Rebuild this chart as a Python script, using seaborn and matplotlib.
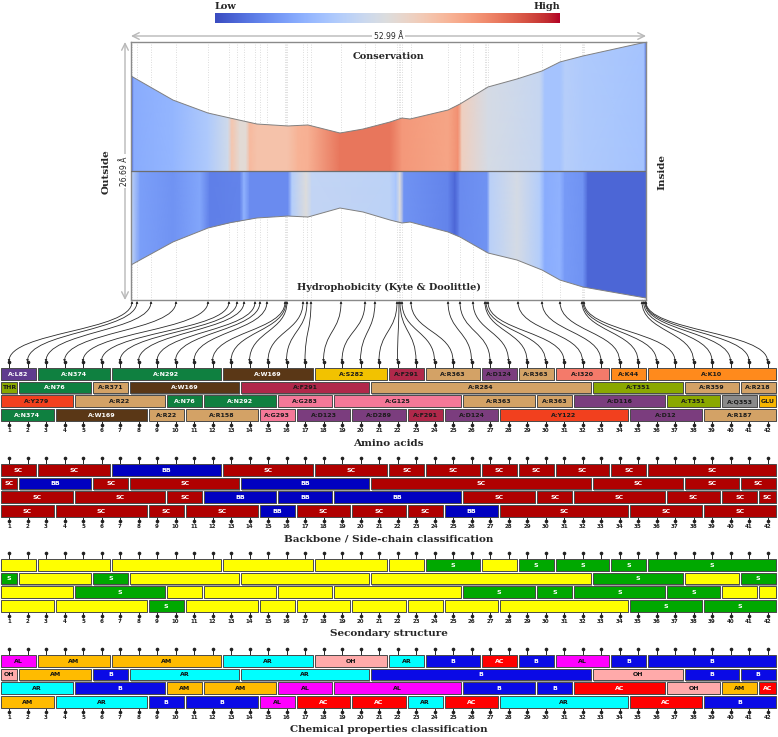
import numpy as np
import seaborn as sns
import matplotlib.pyplot as plt
from matplotlib.patches import Rectangle, Polygon, FancyArrowPatch
from matplotlib.path import Path

sns.set_theme(style="white")
plt.rcParams['font.family'] = ['DejaVu Sans']

# ---- membrane panel (Angstrom) ----
WIDTH_A = 52.99
HEIGHT_A = 26.69

profile_x = [0, 4.32, 7.92, 10.19, 12.96, 16.15, 18.21, 21.50, 23.87, 26.65,
             27.88, 28.71, 32.62, 33.85, 36.73, 39.72, 42.29, 44.14, 46.51, 52.99]
cons_top = [9.83, 7.34, 6.00, 5.48, 4.86, 4.66, 4.76, 3.93, 4.34, 5.07,
            5.48, 5.38, 6.31, 6.93, 8.69, 9.52, 10.35, 11.28, 11.90, 13.34]
hyd_depth = [9.72, 7.34, 5.90, 5.35, 4.86, 4.66, 4.76, 3.83, 4.24, 5.07,
             5.38, 5.28, 6.31, 6.83, 8.48, 9.21, 10.24, 11.28, 12.00, 13.14]

cons_knots = [0, 0.31, 4.32, 7.92, 9.98, 10.39, 11.21, 11.83, 12.24, 12.96, 16.15,
              17.18, 18.21, 21.50, 26.65, 27.88, 32.62, 33.65, 34.06, 36.73, 42.08,
              42.60, 44.14, 44.65, 46.51, 52.78, 52.99]
cons_values = [0.05, 0.24, 0.27, 0.35, 0.45, 0.62, 0.52, 0.52, 0.66, 0.63, 0.63,
               0.68, 0.69, 0.83, 0.83, 0.75, 0.72, 0.77, 0.58, 0.47, 0.42,
               0.32, 0.32, 0.37, 0.35, 0.32, 0.10]

hyd_knots = [0, 0.93, 4.32, 7.10, 8.13, 11.21, 11.63, 12.24, 16.15, 16.57, 18.01,
             18.62, 26.65, 27.27, 27.68, 28.09, 32.62, 33.34, 33.85, 36.63, 36.94,
             39.72, 42.08, 42.60, 44.14, 44.65, 46.51, 47.02, 52.99]
hyd_values = [0.40, 0.20, 0.17, 0.22, 0.12, 0.13, 0.26, 0.15, 0.15, 0.36, 0.50,
              0.41, 0.39, 0.33, 0.50, 0.17, 0.13, 0.06, 0.15, 0.17, 0.38,
              0.47, 0.36, 0.24, 0.26, 0.19, 0.17, 0.06, 0.06]

# residue positions along the membrane (Angstrom), one per track column 1..42
residue_x = [0.10, 0.62, 2.06, 4.63, 7.92, 10.08, 10.91, 11.63, 12.76, 13.27,
             13.99, 15.85, 15.95, 16.05, 17.70, 18.11, 18.52, 21.61, 24.08, 25.10,
             27.37, 27.57, 27.68, 27.88, 28.81, 32.62, 33.85, 35.19, 36.42, 36.53,
             36.73, 39.82, 42.29, 44.14, 46.40, 46.51, 46.61, 52.58, 52.75, 52.88,
             52.94, 52.99]

# ---- tracks: segment starts per row (columns 1..42) ----
n_cols = 42
row_starts = [
    [1, 3, 7, 13, 18, 22, 24, 27, 29, 31, 34, 36],
    [1, 2, 6, 8, 14, 21, 33, 38, 41],
    [1, 5, 10, 12, 16, 19, 26, 30, 32, 37, 40, 42],
    [1, 4, 9, 11, 15, 17, 20, 23, 25, 28, 35, 39],
]
aa_labels = [
    ["A:L82", "A:N374", "A:N292", "A:W169", "A:S282", "A:F291", "A:R363", "A:D124",
     "A:R363", "A:I320", "A:K44", "A:K10"],
    ["THR", "A:N76", "A:R371", "A:W169", "A:F291", "A:R284", "A:T351", "A:R359", "A:R218"],
    ["A:Y279", "A:R22", "A:N76", "A:N292", "A:G283", "A:G125", "A:R363", "A:R363",
     "A:D116", "A:T351", "A:Q353", "GLU"],
    ["A:N374", "A:W169", "A:R22", "A:R158", "A:G293", "A:D123", "A:D289", "A:F291",
     "A:D124", "A:Y122", "A:D12", "A:R187"],
]
bb_labels = [
    ["SC", "SC", "BB", "SC", "SC", "SC", "SC", "SC", "SC", "SC", "SC", "SC"],
    ["SC", "BB", "SC", "SC", "BB", "SC", "SC", "SC", "SC"],
    ["SC", "SC", "SC", "BB", "BB", "BB", "SC", "SC", "SC", "SC", "SC", "SC"],
    ["SC", "SC", "SC", "SC", "BB", "SC", "SC", "SC", "BB", "SC", "SC", "SC"],
]
ss_labels = [
    ["", "", "", "", "", "", "S", "", "S", "S", "S", "S"],
    ["S", "", "S", "", "", "", "S", "", "S"],
    ["", "S", "", "", "", "", "S", "S", "S", "S", "", ""],
    ["", "", "S", "", "", "", "", "", "", "", "S", "S"],
]
chem_labels = [
    ["AL", "AM", "AM", "AR", "OH", "AR", "B", "AC", "B", "AL", "B", "B"],
    ["OH", "AM", "B", "AR", "AR", "B", "OH", "B", "B"],
    ["AR", "B", "AM", "AM", "AL", "AL", "B", "B", "AC", "OH", "AM", "AC"],
    ["AM", "AR", "B", "B", "AL", "AC", "AC", "AR", "AC", "AR", "AC", "B"],
]

# ---- styles ----
aa_colors = {"L": "#5f3b8e", "N": "#0f8040", "W": "#5a3716", "S": "#f2c200",
             "F": "#b0284a", "R": "#d3a266", "D": "#7b3d7e", "I": "#f47a6a",
             "K": "#ff8a1c", "T": "#8aa800", "Y": "#f2401e", "G": "#f47898",
             "Q": "#8a8a8a", "E": "#f7b500"}
aa_white = {"L", "N", "W"}
bb_colors = {"SC": ("#b00000", "white"), "BB": ("#0000c0", "white")}
ss_colors = {"": ("#ffff00", "black"), "S": ("#00a800", "white")}
chem_colors = {"AL": ("#ff00ff", "#111111"), "AM": ("#ffbb00", "#111111"),
               "AR": ("#00ffff", "#111111"), "OH": ("#ffaaaa", "#111111"),
               "B": ("#0a0ae6", "white"), "AC": ("#ff0000", "white")}
one_letter = {"THR": "T", "GLU": "E"}


def aa_style(lab):
    code = one_letter.get(lab, lab[2:3])
    return aa_colors[code], ("white" if code in aa_white else "#1a1a1a")


W, H = 778, 737
cmap = sns.color_palette("coolwarm", as_cmap=True)
fig = plt.figure(figsize=(W / 100, H / 100), dpi=100)


def fig_rect(x0, y0, x1, y1):
    return [x0 / W, 1 - y1 / H, (x1 - x0) / W, (y1 - y0) / H]


serif = dict(family="DejaVu Serif", fontweight="bold")

# pixel overlay for layout annotations
ax_px = fig.add_axes([0, 0, 1, 1], zorder=0)
ax_px.set_xlim(0, W)
ax_px.set_ylim(H, 0)
ax_px.axis("off")

# tracks axes: x in column units, y in pixels
ax_tr = fig.add_axes([0, 0, 1, 1], zorder=1)
ax_tr.set_xlim(1 - 9 / 18.5, 1 + (W - 9) / 18.5)
ax_tr.set_ylim(H, 0)
ax_tr.axis("off")
ax_tr.patch.set_alpha(0)

# main membrane panel
ax = fig.add_axes(fig_rect(131, 42, 646, 300), zorder=2)
ax.set_xlim(0, WIDTH_A)
ax.set_ylim(-HEIGHT_A / 2, HEIGHT_A / 2)
ax.set_xticks([])
ax.set_yticks([])
for sp in ax.spines.values():
    sp.set_color("#8a8a8a")
    sp.set_linewidth(1.0)

ax.vlines(residue_x, -HEIGHT_A / 2, HEIGHT_A / 2, colors="#d0d0d0",
          linestyles=(0, (1, 2)), lw=0.6, zorder=0)

half = HEIGHT_A / 2
px_ = np.asarray(profile_x)
for knots, vals, ylo, yhi, edge in [
        (cons_knots, cons_values, 0, half, np.asarray(cons_top)),
        (hyd_knots, hyd_values, -half, 0, -np.asarray(hyd_depth))]:
    verts = list(zip(px_, edge)) + [(px_[-1], 0.0), (px_[0], 0.0)]
    poly = Polygon(verts, closed=True, facecolor="none", edgecolor="none")
    ax.add_patch(poly)
    kx = np.asarray(knots)
    X = np.vstack([kx, kx])
    Y = np.vstack([np.full_like(kx, ylo), np.full_like(kx, yhi)])
    C = np.vstack([vals, vals])
    mesh = ax.pcolormesh(X, Y, C, shading="gouraud", cmap=cmap, vmin=0, vmax=1, zorder=1)
    mesh.set_clip_path(poly)
    sns.lineplot(x=px_, y=edge, ax=ax, color="#808080", lw=0.7, estimator=None,
                 sort=False, zorder=3)

ax.axhline(0, color="#6e6e6e", lw=0.9, zorder=3)
ax.text(0.5, 0.942, "Conservation", transform=ax.transAxes, ha="center",
        va="center", fontsize=7, zorder=4, **serif)
ax.text(0.5, 0.05, "Hydrophobicity (Kyte & Doolittle)", transform=ax.transAxes,
        ha="center", va="center", fontsize=7, zorder=4, **serif)

# colour bar
ax_cb = fig.add_axes(fig_rect(215, 13, 560, 23))
ax_cb.imshow(np.linspace(0, 1, 256)[None, :], aspect="auto", cmap=cmap)
ax_cb.axis("off")
ax_px.text(215, 11, "Low", ha="left", va="bottom", fontsize=7, **serif)
ax_px.text(560, 11, "High", ha="right", va="bottom", fontsize=7, **serif)

# dimension arrows
arrow_kw = dict(arrowstyle="<->", color="#b8b8b8", lw=1.0, shrinkA=0, shrinkB=0)
ax_px.annotate("", xy=(131, 36), xytext=(646, 36), arrowprops=arrow_kw)
ax_px.text(388.5, 36, "52.99 Å", ha="center", va="center", fontsize=5.5,
           bbox=dict(facecolor="white", edgecolor="none", pad=1.5))
ax_px.annotate("", xy=(125, 42), xytext=(125, 300), arrowprops=arrow_kw)
ax_px.text(125, 171, "26.69 Å", ha="center", va="center", fontsize=5.5, rotation=90,
           bbox=dict(facecolor="white", edgecolor="none", pad=1.5))
ax_px.text(106, 172, "Outside", ha="center", va="center", rotation=90, fontsize=7.5, **serif)
ax_px.text(662, 172, "Inside", ha="center", va="center", rotation=90, fontsize=7.5, **serif)

# links from residues to track columns
cols = np.arange(1, n_cols + 1)
disp = ax.transData.transform(np.column_stack([residue_x, np.zeros(n_cols)]))
src = ax_tr.transData.inverted().transform(disp)[:, 0]
y_a, y_b = 301, 362
for xs, xt in zip(src, cols):
    path = Path([(xs, y_a), (xs, (y_a + y_b) / 2), (xt, (y_a + y_b) / 2), (xt, y_b)],
                [Path.MOVETO, Path.CURVE4, Path.CURVE4, Path.CURVE4])
    ax_tr.add_patch(FancyArrowPatch(path=path, arrowstyle="<|-|>", mutation_scale=3,
                                    lw=0.6, color="#2a2a2a", zorder=2))

# tracks
track_tops = [368, 464, 559, 655]
track_titles = ["Amino acids", "Backbone / Side-chain classification",
                "Secondary structure", "Chemical properties classification"]
track_labels = [aa_labels, bb_labels, ss_labels, chem_labels]
row_pitch, row_h = 13.7, 11.7


def style_for(t, lab):
    if t == 0:
        return aa_style(lab)
    if t == 1:
        return bb_colors[lab]
    if t == 2:
        return ss_colors[lab]
    return chem_colors[lab]


for t, (top, title, labels) in enumerate(zip(track_tops, track_titles, track_labels)):
    for r, (starts, labs) in enumerate(zip(row_starts, labels)):
        ends = [s - 1 for s in starts[1:]] + [n_cols]
        y0 = top + r * row_pitch
        for s, e, lab in zip(starts, ends, labs):
            fc, tc = style_for(t, lab)
            x0 = s - 0.5 + 0.05
            w = e - s + 1 - 0.1
            ax_tr.add_patch(Rectangle((x0 + 0.06, y0 + 1.1), w, row_h,
                                      facecolor="#a0a0a0", edgecolor="none", zorder=2))
            ax_tr.add_patch(Rectangle((x0, y0), w, row_h, facecolor=fc,
                                      edgecolor="#4a4a4a", lw=0.7, zorder=3))
            if lab:
                ax_tr.text((s + e) / 2, y0 + row_h / 2 + 0.3, lab, ha="center",
                           va="center", fontsize=4.5, fontweight="bold", color=tc, zorder=4)
    # pins above and below
    bottom = top + 3 * row_pitch + row_h
    ax_tr.vlines(cols, top - 6, top, colors="#222222", lw=0.7, zorder=2)
    ax_tr.plot(cols, np.full(n_cols, top - 6), "o", ms=1.6, color="#222222", zorder=2)
    ax_tr.vlines(cols, bottom, bottom + 6, colors="#222222", lw=0.7, zorder=2)
    ax_tr.plot(cols, np.full(n_cols, bottom + 4.5), "o", ms=1.6, color="#222222", zorder=2)
    for c in cols:
        ax_tr.text(c, top + 62.5, str(c), ha="center", va="center", fontsize=4,
                   fontweight="bold", color="#222222")
    ax_px.text(388.5, top + 75, title, ha="center", va="center", fontsize=7.5, **serif)

fig.savefig("out.png", dpi=100)
